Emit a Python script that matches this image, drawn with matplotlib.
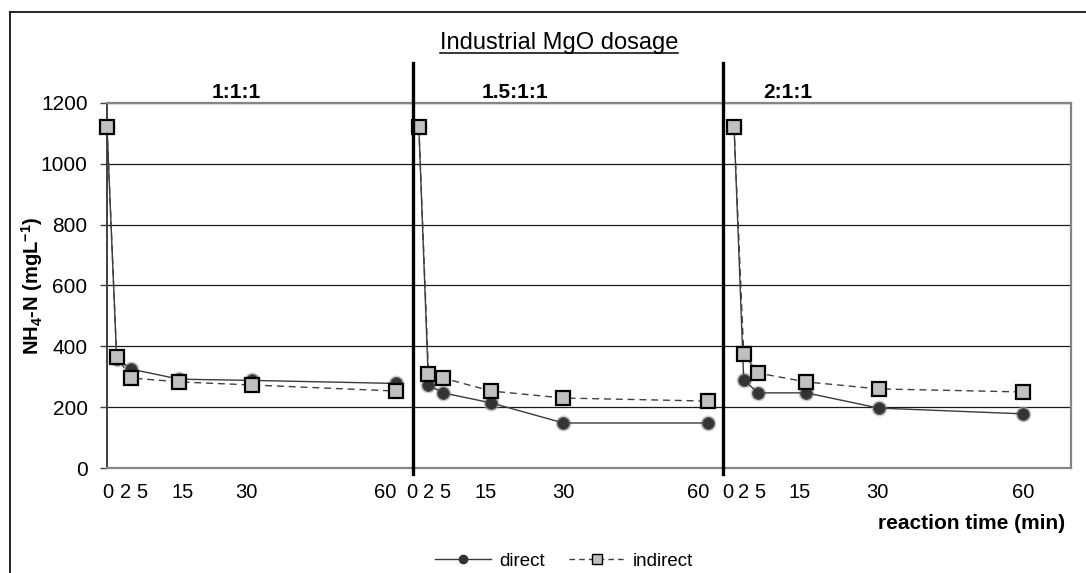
import matplotlib
matplotlib.use("Agg")
import matplotlib.pyplot as plt
from matplotlib.lines import Line2D

plt.rcParams['font.family'] = ['Liberation Sans', 'DejaVu Sans']
plt.rcParams['mathtext.fontset'] = 'custom'
plt.rcParams['mathtext.rm'] = 'Liberation Sans:bold'
plt.rcParams['mathtext.default'] = 'rm'

# sampling times (min) and the three dosage ratios
times = [0, 2, 5, 15, 30, 60]
ratios = ['1:1:1', '1.5:1:1', '2:1:1']
tick_text = ['0', '2', '5', '15', '30', '60']

# NH4-N (mg/L) per ratio
direct = [
    [1120, 360, 325, 292, 288, 278],
    [1120, 273, 247, 214, 148, 148],
    [1120, 289, 247, 247, 197, 178],
]
indirect = [
    [1120, 365, 296, 283, 273, 253],
    [1120, 309, 296, 253, 230, 220],
    [1120, 375, 312, 283, 260, 250],
]

# layout of the three blocks on one shared time axis
offsets = [0, 64.7, 130.1]
dividers = [63.5, 127.8]
label_x = [26.8, 19.9, 11.2]
tick_pos = [
    [0.2, 3.9, 7.3, 15.6, 29.0, 57.7],
    [-1.4, 2.1, 5.4, 13.9, 29.9, 58.0],
    [-1.2, 1.9, 5.4, 13.7, 29.7, 60.0],
]

fig = plt.figure(figsize=(10.86, 5.73), dpi=100)
ax = fig.add_axes([107 / 1086, 1 - 468 / 573, 964 / 1086, 365 / 573])

for k in range(3):
    x = [t + offsets[k] for t in times]
    # soft halo under the dark circles
    ax.plot(x, direct[k], linestyle='none', marker='o', markersize=11.5,
            markerfacecolor='#b0b0b0', markeredgecolor='none', alpha=0.6, zorder=3,
            clip_on=False)
    ax.plot(x, direct[k], color='#3a3a3a', linewidth=1.0, marker='o', markersize=8.5,
            markerfacecolor='#333333', markeredgecolor='#555555', markeredgewidth=0.8,
            zorder=4, clip_on=False)
    ax.plot(x, indirect[k], color='#404040', linewidth=1.0, linestyle=(0, (5, 3.5)),
            marker='s', markersize=9.5, markerfacecolor='#c0c0c0',
            markeredgecolor='black', markeredgewidth=1.6, zorder=5, clip_on=False)
    ax.text(offsets[k] + label_x[k], 1216, ratios[k], ha='center', va='baseline',
            fontsize=15, fontweight='bold')

for d in dividers:
    ax.plot([d, d], [-20, 1330], color='black', linewidth=2.4, clip_on=False, zorder=6)

ax.set_xlim(0, 200)
ax.set_ylim(0, 1200)
ax.set_yticks(range(0, 1201, 200))
ax.yaxis.grid(True, color='#1a1a1a', linewidth=0.9)
ax.set_axisbelow(True)
ax.tick_params(axis='y', direction='out', length=5, width=1.0, color='#404040',
               labelsize=15, pad=9)

xt, xl = [], []
for k in range(3):
    xt += [p + offsets[k] for p in tick_pos[k]]
    xl += tick_text
ax.set_xticks(xt)
ax.set_xticklabels(xl)
ax.tick_params(axis='x', length=0, labelsize=14.5, pad=11)

for side in ['top', 'right', 'bottom']:
    ax.spines[side].set_color('#858585')
    ax.spines[side].set_linewidth(1.6)
ax.spines['left'].set_color('#404040')
ax.spines['left'].set_linewidth(1.4)

ax.set_ylabel(r'NH$_4$-N (mgL$^{-1}$)', fontsize=14.5, fontweight='bold')
ax.yaxis.set_label_coords(-0.064, 0.5)

fig.text(1065 / 1086, 1 - 529 / 573, 'reaction time (min)', ha='right',
         va='baseline', fontsize=15, fontweight='bold')

title = fig.text(559 / 1086, 1 - 49 / 573, 'Industrial MgO dosage', ha='center',
                 va='baseline', fontsize=17)

handles = [
    Line2D([], [], color='#3a3a3a', linewidth=1.0, marker='o', markersize=6,
           markerfacecolor='#333333', markeredgecolor='#333333'),
    Line2D([], [], color='#404040', linewidth=1.0, linestyle=(0, (4, 3)), marker='s',
           markersize=6.5, markerfacecolor='#c0c0c0', markeredgecolor='black',
           markeredgewidth=1.0),
]
fig.legend(handles, ['direct', 'indirect'], loc='center', ncol=2, frameon=False,
           bbox_to_anchor=(564 / 1086, 1 - 561 / 573), fontsize=13.5,
           handlelength=3.0, handletextpad=0.4, columnspacing=1.3)

# outer chart border
bx, by = 10 / 1086, 1 - 12 / 573
fig.add_artist(Line2D([bx, bx], [0, by], color='black', linewidth=1.2))
fig.add_artist(Line2D([bx, 1], [by, by], color='black', linewidth=1.2))

# underline the title
fig.canvas.draw()
bb = title.get_window_extent().transformed(fig.transFigure.inverted())
fig.add_artist(Line2D([bb.x0, bb.x1], [bb.y0 + 0.001, bb.y0 + 0.001],
                      color='black', linewidth=1.1))

fig.savefig('out.png', dpi=100)
